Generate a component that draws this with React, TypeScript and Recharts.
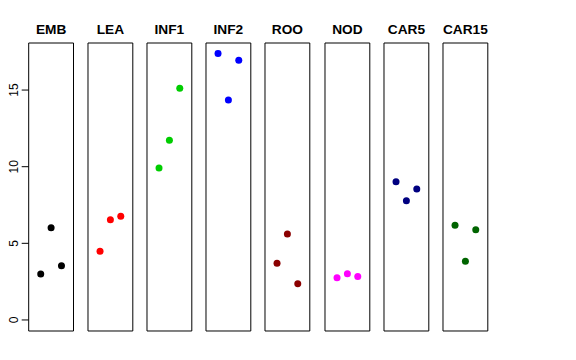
import React from 'react';
import { ScatterChart, Scatter, XAxis, YAxis, ReferenceArea } from 'recharts';

const categories = ['EMB', 'LEA', 'INF1', 'INF2', 'ROO', 'NOD', 'CAR5', 'CAR15'];
const colors = ['#000000', '#FF0000', '#00CD00', '#0000FF', '#8B0000', '#FF00FF', '#000080', '#006400'];
const positions = [1, 2, 3];
const embValues = [3.0, 6.02, 3.54];
const leaValues = [4.48, 6.54, 6.76];
const inf1Values = [9.91, 11.72, 15.11];
const inf2Values = [17.39, 14.35, 16.94];
const rooValues = [3.7, 5.61, 2.37];
const nodValues = [2.76, 3.02, 2.83];
const car5Values = [9.02, 7.78, 8.54];
const car15Values = [6.18, 3.83, 5.89];
const yTicks = [0, 5, 10, 15];

const allValues = [embValues, leaValues, inf1Values, inf2Values, rooValues, nodValues, car5Values, car15Values];

const X_DOMAIN: [number, number] = [-0.16, 4.16];
const Y_DOMAIN: [number, number] = [-0.72, 18.07];

const FONT = '"Liberation Sans", Arial, Helvetica, sans-serif';
const PANEL_W = 44.8;
const FIRST_LEFT = 28.7;
const STEP = 59.19;
const AXIS_W = 28.7;
const PAD = 6;

const YTick = (props: any) => {
  const { x, y, payload } = props;
  return (
    <text
      x={x - 2}
      y={y}
      transform={`rotate(-90 ${x - 2} ${y})`}
      textAnchor="middle"
      fontSize={12}
      fontFamily={FONT}
      fill="#000"
    >
      {payload.value}
    </text>
  );
};

const Panel = ({ index }: { index: number }) => {
  const data = positions.map((p, j) => ({ x: p, y: allValues[index][j] }));
  const color = colors[index];
  const first = index === 0;
  const plotLeft = FIRST_LEFT + index * STEP;
  const chartLeft = first ? 0 : plotLeft - PAD;
  const leftMargin = first ? 0 : PAD;
  const width = (first ? AXIS_W : PAD) + PANEL_W + PAD;
  return (
    <div style={{ position: 'absolute', left: chartLeft, top: 0 }}>
      <ScatterChart
        width={width}
        height={360}
        margin={{ top: 43, bottom: 29, left: leftMargin, right: PAD }}
      >
        <XAxis type="number" dataKey="x" domain={X_DOMAIN} hide />
        <YAxis
          type="number"
          dataKey="y"
          domain={Y_DOMAIN}
          ticks={yTicks}
          hide={!first}
          width={AXIS_W}
          tickSize={7}
          tick={<YTick />}
          axisLine={false}
          tickLine={{ stroke: '#000' }}
          allowDataOverflow
        />
        <ReferenceArea
          x1={X_DOMAIN[0]}
          x2={X_DOMAIN[1]}
          y1={Y_DOMAIN[0]}
          y2={Y_DOMAIN[1]}
          fill="#fff"
          fillOpacity={0}
          stroke="#000"
          strokeWidth={1}
          ifOverflow="visible"
          label={{
            value: categories[index],
            position: 'top',
            offset: 9,
            fontWeight: 'bold',
            fontSize: 13.7,
            fontFamily: FONT,
            fill: '#000',
          }}
        />
        <Scatter
          data={data}
          isAnimationActive={false}
          shape={(p: any) => <circle cx={p.cx} cy={p.cy} r={3.5} fill={color} />}
        />
      </ScatterChart>
    </div>
  );
};

export default function App() {
  return (
    <div style={{ position: 'absolute', left: 0, top: 0, width: 576, height: 360, background: '#fff' }}>
      {categories.map((c, i) => (
        <Panel key={c} index={i} />
      ))}
    </div>
  );
}
